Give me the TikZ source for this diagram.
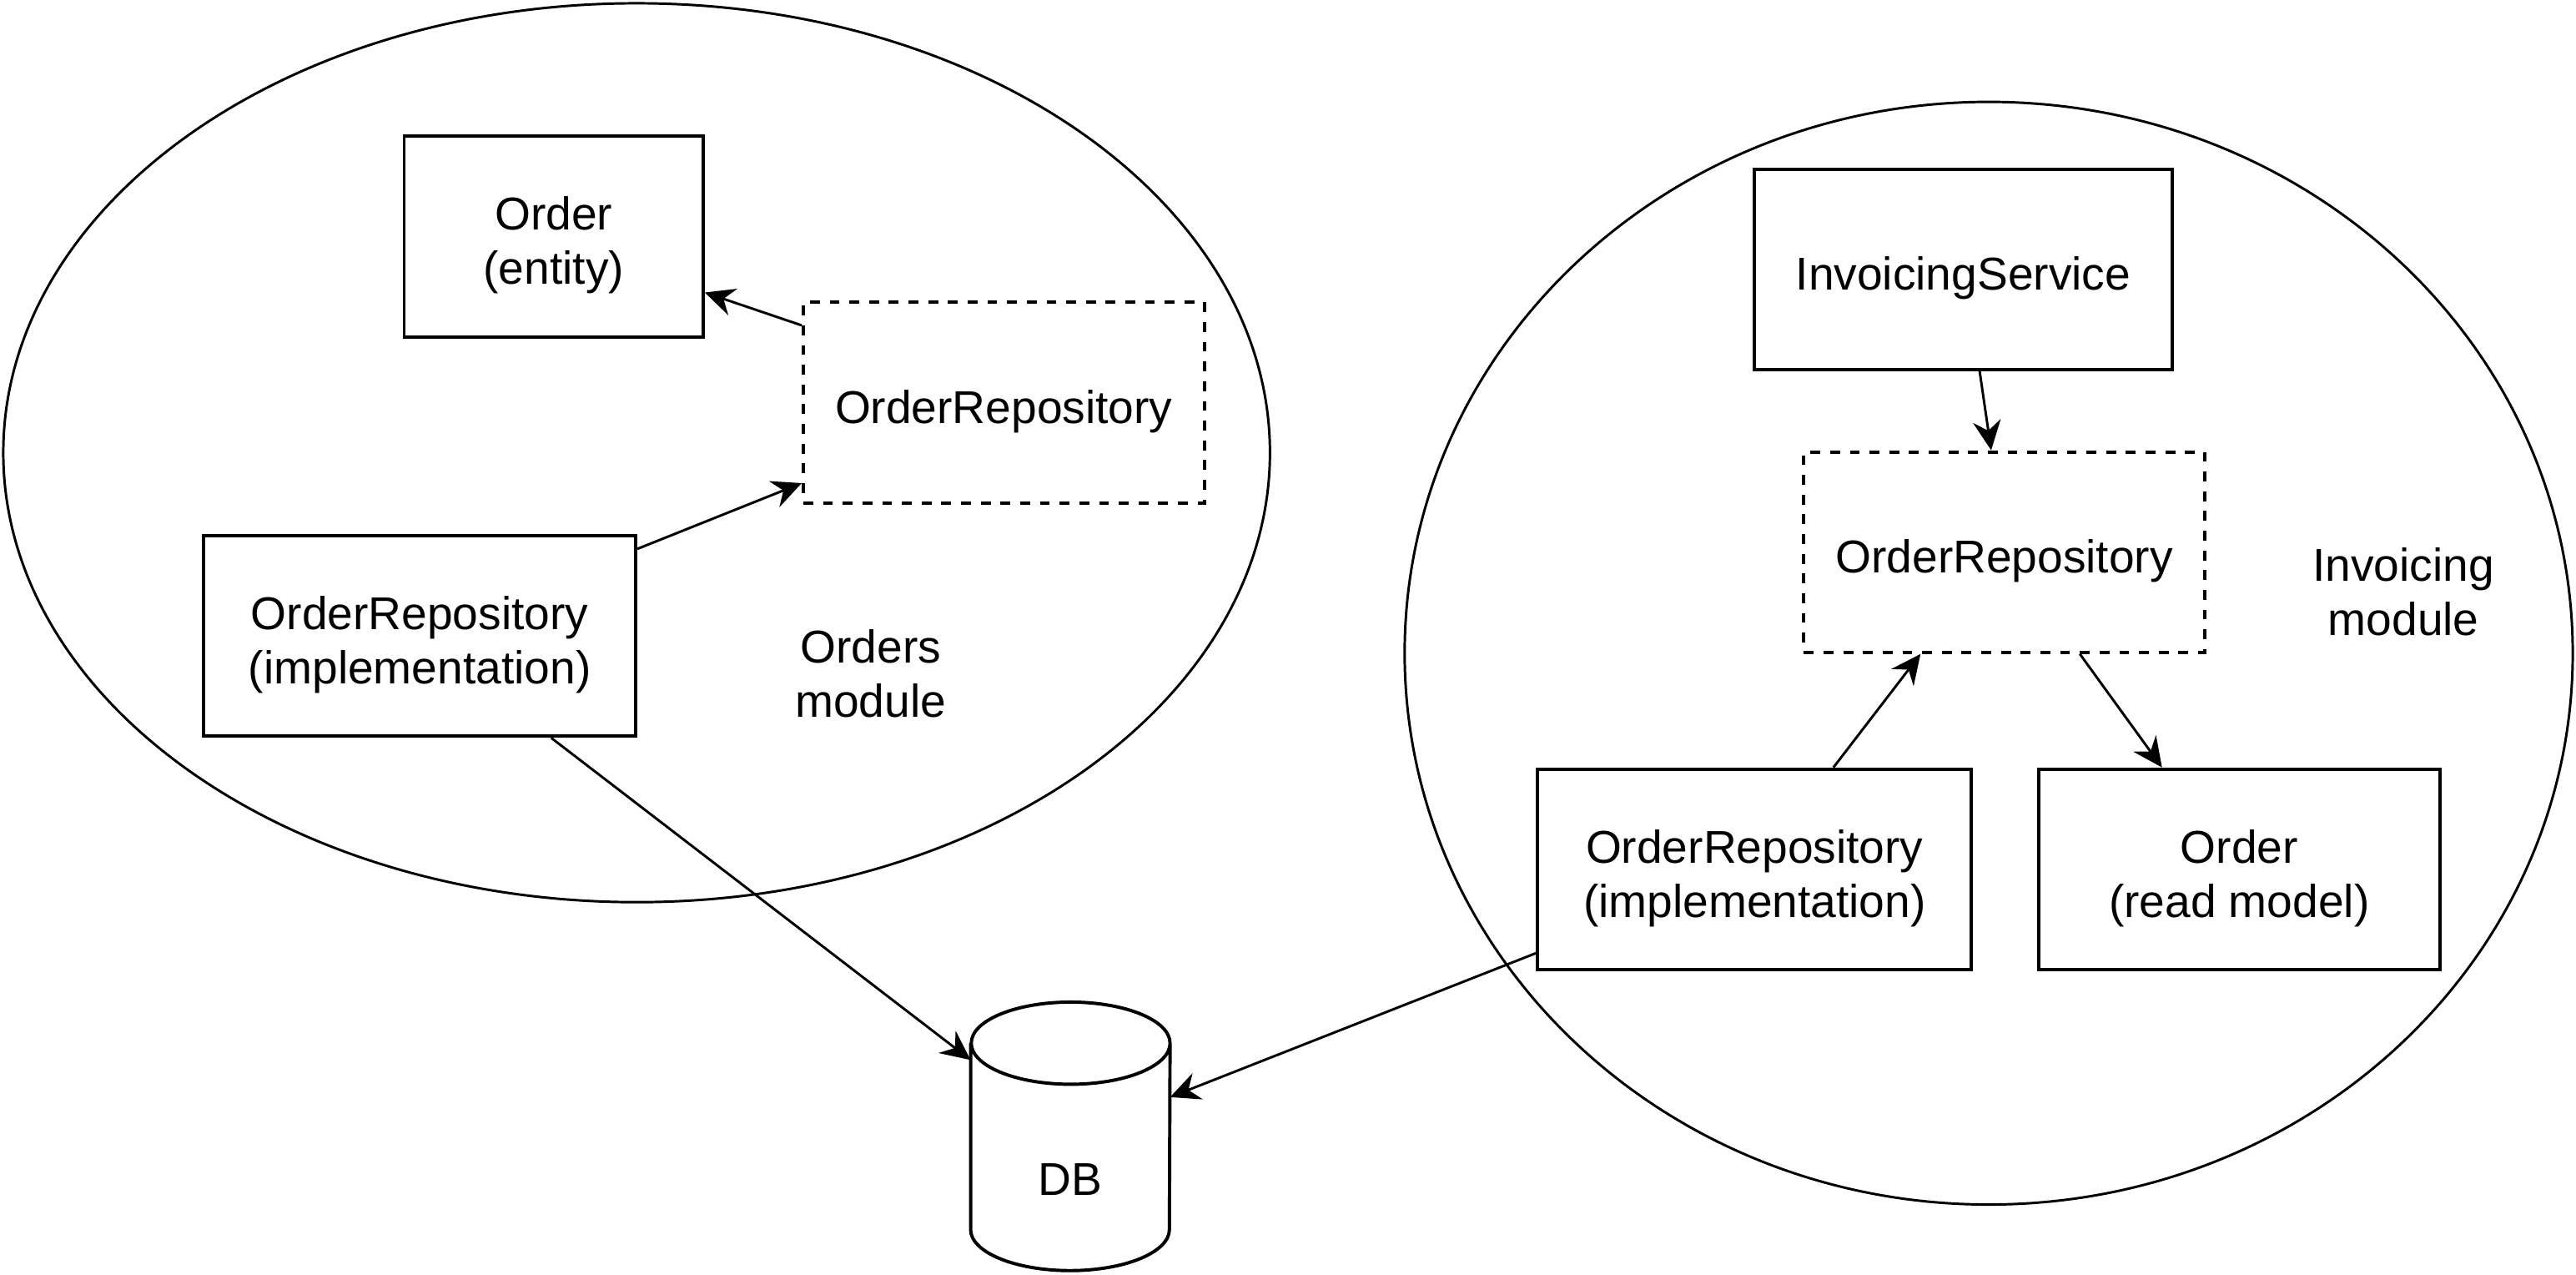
\documentclass[tikz,border=0pt]{standalone}
\usepackage{fontspec}
\setmainfont{Liberation Sans}
\usetikzlibrary{arrows.meta,positioning,shapes.geometric}

\begin{document}
\begin{tikzpicture}[x=1pt,y=-1pt,
    font=\fontsize{28}{33}\selectfont,
    >={Stealth[length=18pt,width=17pt,inset=6pt]},
    box/.style={draw,line width=2pt,align=center,minimum height=122pt,inner sep=0pt,text height=31pt},
    box2/.style={box,text height=64pt},
    iface/.style={box,dash pattern=on 6pt off 6pt},
    module/.style={draw,ellipse,line width=1.5pt,inner sep=0pt},
    link/.style={->,line width=1.5pt}]
      \useasboundingbox (0,0) rectangle (1568,775.4);

      \node[module,minimum width=771pt,minimum height=547pt] (m1) at (387.5,275.5) {};
      \node[module,minimum width=711pt,minimum height=671pt] (m2) at (1210.5,397.5) {};

      % orders module
      \node[box2,minimum width=182pt] (1) at (337,144) {Order\\(entity)};
      \node[iface,minimum width=244pt,right=59pt of 1,yshift=-101pt] (2) {OrderRepository};
      \node[box2,minimum width=263pt] (3) at (255.5,387) {OrderRepository\\(implementation)};
      \node[align=center] (4) at (530,410) {Orders\\module};

      % db
      \node[minimum width=121pt,minimum height=163pt,inner sep=0pt] (DB) at (651.5,691.5) {};
      \draw[line width=2pt] ([yshift=-25pt]DB.north west) -- ([yshift=25pt]DB.south west)
        arc[start angle=180,end angle=360,x radius=60.5pt,y radius=25pt]
        -- ([yshift=-25pt]DB.north east)
        arc[start angle=0,end angle=360,x radius=60.5pt,y radius=25pt];
      \node (db) at ([yshift=-26pt]DB.center) {DB};

      % invoicing module
      \node[box,minimum width=254pt] (5) at (1195,164) {InvoicingService};
      \node[iface,minimum width=244pt,below=48pt of 5,xshift=25pt] (6) {OrderRepository};
      \node[box2,minimum width=264pt] (7) at (1068,529) {OrderRepository\\(implementation)};
      \node[box2,minimum width=244pt,right=39pt of 7] (8) {Order\\(read model)};
      \node[align=center] (9) at (1463,360) {Invoicing\\module};

      \draw[link] ([yshift=47pt]2.west) -- ([yshift=-34pt]1.east);
      \draw[link] ([yshift=53pt]3.east) -- ([yshift=-49pt]2.west);
      \draw[link] ([xshift=80pt]3.south) -- (DB);
      \draw[link] ([yshift=-51pt]7.west) -- (DB);
      \draw[link] ([xshift=10pt]5.south) -- ([xshift=-8pt]6.north);
      \draw[link] ([xshift=48pt]7.north) -- ([xshift=-51pt]6.south);
      \draw[link] ([xshift=46pt]6.south) -- ([xshift=-47pt]8.north);
    \end{tikzpicture}
\end{document}
